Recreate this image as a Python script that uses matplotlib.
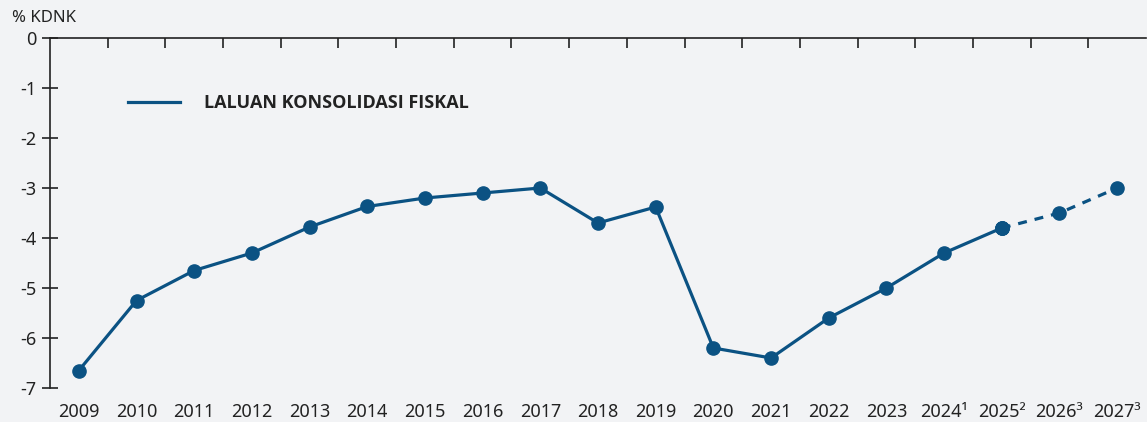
import matplotlib.pyplot as plt
import numpy as np

# dades
anys = ['2009', '2010', '2011', '2012', '2013', '2014', '2015', '2016', '2017', '2018',
        '2019', '2020', '2021', '2022', '2023', '2024¹', '2025²', '2026³', '2027³']
defisit = [-6.65, -5.25, -4.65, -4.3, -3.78, -3.37, -3.2, -3.1, -3.0, -3.7,
           -3.38, -6.2, -6.4, -5.6, -5.0, -4.3, -3.8, -3.5, -3.0]
n_real = 17  # fins 2025 linia continua, despres projeccio
yticks = [0, -1, -2, -3, -4, -5, -6, -7]

plt.rcParams['font.family'] = ['Noto Sans', 'DejaVu Sans']
fons = '#f2f3f5'
blau = '#0b5283'
gris = '#222222'

fig = plt.figure(figsize=(11.47, 4.22), dpi=100, facecolor=fons)
ax = fig.add_axes([50 / 1147, 1 - 388 / 422, 1096 / 1147, 350 / 422], facecolor=fons)

x = np.arange(len(anys))
ax.plot(x[:n_real], defisit[:n_real], color=blau, lw=2.3, marker='o', ms=9.5,
        label='LALUAN KONSOLIDASI FISKAL')
ax.plot(x[n_real - 1:], defisit[n_real - 1:], color=blau, lw=2.3, ls=(0, (2.8, 2.5)),
        marker='o', ms=9.5)
# tornem a pintar el punt de 2025 perque quedi net
ax.plot(x[n_real - 1], defisit[n_real - 1], color=blau, marker='o', ms=9.5)

ax.set_xlim(-0.5, len(anys) - 0.5)
ax.set_ylim(-7, 0)

ax.set_xticks(x)
ax.set_xticklabels(anys)
ax.set_xticks(np.arange(0.5, len(anys) - 0.5), minor=True)
ax.tick_params(axis='x', which='major', length=0, pad=11, labelsize=13, colors=gris)
ax.tick_params(axis='x', which='minor', bottom=False, top=True, direction='in', length=7,
               width=1.2, color=gris)

ax.set_yticks(yticks)
ax.set_yticklabels([str(v) for v in yticks])
ax.tick_params(axis='y', direction='inout', length=12, width=1.2, labelsize=13,
               colors=gris, pad=4)

for s in ['right', 'bottom']:
    ax.spines[s].set_visible(False)
for s in ['left', 'top']:
    ax.spines[s].set_color(gris)
    ax.spines[s].set_linewidth(1.2)

fig.text(12 / 1147, 1 - 18 / 422, '% KDNK', fontsize=12, color=gris, va='center')

leg = ax.legend(loc='center left', bbox_to_anchor=(0.0712, 0.814), frameon=False,
                borderaxespad=0, borderpad=0, handlelength=2.9, handletextpad=1.28,
                prop={'family': 'Open Sans', 'weight': 'bold', 'size': 13})
for t in leg.get_texts():
    t.set_color(gris)
for h in leg.legend_handles:
    h.set_marker('')

fig.savefig('out.png', dpi=100, facecolor=fons)
